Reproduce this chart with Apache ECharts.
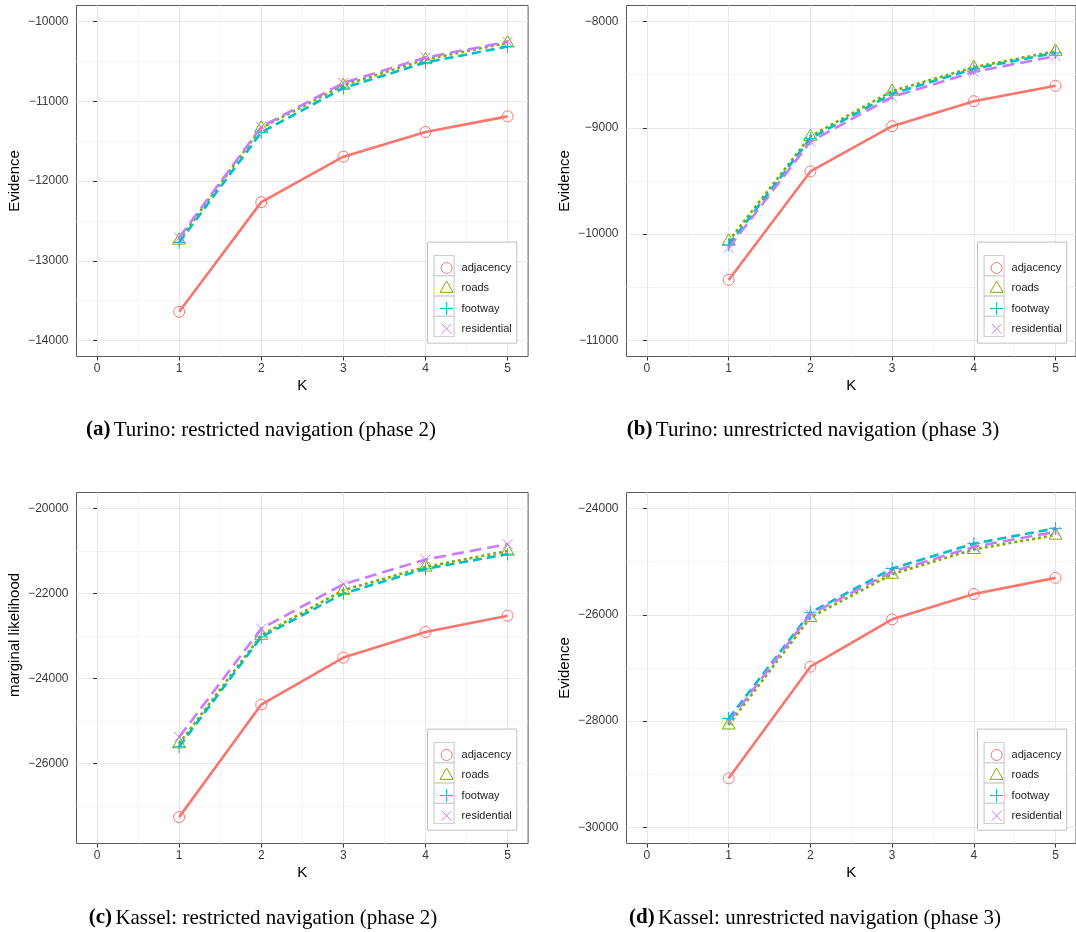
<!DOCTYPE html>
<html>
<head>
<meta charset="utf-8">
<script src="https://cdn.jsdelivr.net/npm/echarts@6/dist/echarts.min.js"></script>
<style>
  html, body { margin: 0; padding: 0; background: #fff; }
  #main { width: 1076px; height: 932px; }
</style>
</head>
<body>
<div id="main"></div>
<script>
var chartDom = document.getElementById('main');
var myChart = echarts.init(chartDom);
var option;

// data
const K = [1, 2, 3, 4, 5];
const names = ['adjacency', 'roads', 'footway', 'residential'];
const colors = ['#F8766D', '#7CAE00', '#00BFC4', '#C77CFF'];

// (a) Turino phase 2
const adjA = [-13640, -12265, -11695, -11385, -11190];
const roadsA = [-12740, -11335, -10800, -10478, -10268];
const footA = [-12770, -11390, -10835, -10515, -10315];
const resA = [-12710, -11322, -10770, -10452, -10255];
// (b) Turino phase 3
const adjB = [-10430, -9410, -8985, -8750, -8605];
const roadsB = [-10065, -9080, -8655, -8430, -8280];
const footB = [-10100, -9100, -8680, -8445, -8295];
const resB = [-10130, -9130, -8710, -8475, -8325];
// (c) Kassel phase 2
const adjC = [-27255, -24610, -23505, -22905, -22520];
const roadsC = [-25530, -22980, -21920, -21375, -21000];
const footC = [-25600, -23020, -22000, -21420, -21075];
const resC = [-25375, -22825, -21780, -21200, -20840];
// (d) Kassel phase 3
const adjD = [-29075, -26975, -26085, -25610, -25305];
const roadsD = [-28070, -26050, -25235, -24770, -24500];
const footD = [-27950, -25960, -25130, -24660, -24375];
const resD = [-28010, -25990, -25190, -24720, -24440];

const xTicks = [0, 1, 2, 3, 4, 5];
const xMinor = [0.5, 1.5, 2.5, 3.5, 4.5];
const yTicksA = [-14000, -13000, -12000, -11000, -10000];
const yMinorA = [-13500, -12500, -11500, -10500];
const yTicksB = [-11000, -10000, -9000, -8000];
const yMinorB = [-10500, -9500, -8500];
const yTicksC = [-26000, -24000, -22000, -20000];
const yMinorC = [-27000, -25000, -23000, -21000];
const yTicksD = [-30000, -28000, -26000, -24000];
const yMinorD = [-29000, -27000, -25000];

const yLabels = ['Evidence', 'Evidence', 'marginal likelihood', 'Evidence'];
const captions = [
  ['(a)', 'Turino: restricted navigation (phase 2)'],
  ['(b)', 'Turino: unrestricted navigation (phase 3)'],
  ['(c)', 'Kassel: restricted navigation (phase 2)'],
  ['(d)', 'Kassel: unrestricted navigation (phase 3)']
];

const panels = [
  { box: [76.5, 5.5, 451.6, 351], y: [-14200, -9800], ticks: yTicksA, minor: yMinorA, vals: [adjA, roadsA, footA, resA], cap: [261, 430] },
  { box: [626.5, 5.5, 451.6, 351], y: [-11150, -7850], ticks: yTicksB, minor: yMinorB, vals: [adjB, roadsB, footB, resB], cap: [813, 430] },
  { box: [76.5, 492.5, 451.6, 351], y: [-27875, -19625], ticks: yTicksC, minor: yMinorC, vals: [adjC, roadsC, footC, resC], cap: [263, 918] },
  { box: [626.5, 492.5, 451.6, 351], y: [-30300, -23700], ticks: yTicksD, minor: yMinorD, vals: [adjD, roadsD, footD, resD], cap: [815, 918] }
];

const sans = 'Liberation Sans, Arial, sans-serif';
const serif = 'Liberation Serif, Times New Roman, serif';
// symbols drawn in a 20x20 box (the two moves keep the box size)
const symbols = [
  'path://M0,0M20,20M15.5,10A5.5,5.5,0,1,1,4.5,10A5.5,5.5,0,1,1,15.5,10Z',
  'path://M0,0M20,20M10,2.8L16.5,14.1L3.5,14.1Z',
  'path://M0,0M20,20M3.5,10L16.5,10M10,3.5L10,16.5',
  'path://M0,0M20,20M5,5L15,15M15,5L5,15'
];
const dashes = ['solid', [3, 3], [9, 5], [12, 6]];

function fmt(v) {
  return (v < 0 ? '\u2212' : '') + Math.abs(v);
}

const grids = [], xAxes = [], yAxes = [], series = [], legends = [], graphics = [];

panels.forEach(function (p, gi) {
  const [gx, gy, gw, gh] = p.box;
  grids.push({
    left: gx, top: gy, width: gw, height: gh,
    show: true, backgroundColor: '#fff', borderColor: '#5a5a5a', borderWidth: 1
  });
  // major x axis
  xAxes.push({
    gridIndex: gi, type: 'value', min: -0.25, max: 5.25,
    axisLine: { show: false },
    axisTick: { show: true, length: 4, lineStyle: { color: '#333' }, customValues: xTicks },
    axisLabel: { customValues: xTicks, margin: 6, fontSize: 12, color: '#3a3a3a', fontFamily: sans },
    splitLine: { show: true, lineStyle: { color: '#e8e8e8', width: 1.1 } },
    name: 'K', nameLocation: 'middle', nameGap: 22,
    nameTextStyle: { fontSize: 15, color: '#000', fontFamily: sans }
  });
  // minor x grid
  xAxes.push({
    gridIndex: gi, type: 'value', min: -0.25, max: 5.25,
    axisLine: { show: false },
    axisTick: { show: false, customValues: xMinor },
    axisLabel: { show: false, customValues: xMinor },
    splitLine: { show: true, lineStyle: { color: '#f4f4f4', width: 1 } }
  });
  yAxes.push({
    gridIndex: gi, type: 'value', min: p.y[0], max: p.y[1],
    axisLine: { show: false },
    axisTick: { show: true, length: 4, lineStyle: { color: '#333' }, customValues: p.ticks },
    axisLabel: { customValues: p.ticks, margin: 8, fontSize: 12, color: '#3a3a3a', fontFamily: sans, formatter: fmt },
    splitLine: { show: true, lineStyle: { color: '#e8e8e8', width: 1.1 } },
    name: yLabels[gi], nameLocation: 'middle', nameGap: 54,
    nameTextStyle: { fontSize: 15, color: '#000', fontFamily: sans, padding: gi === 2 ? [0, 0, 0, 66] : 0 }
  });
  yAxes.push({
    gridIndex: gi, type: 'value', min: p.y[0], max: p.y[1],
    axisLine: { show: false },
    axisTick: { show: false, customValues: p.minor },
    axisLabel: { show: false, customValues: p.minor },
    splitLine: { show: true, lineStyle: { color: '#f4f4f4', width: 1 } }
  });

  names.forEach(function (nm, si) {
    series.push({
      type: 'line', name: nm,
      xAxisIndex: gi * 2, yAxisIndex: gi * 2,
      data: K.map(function (k, i) { return [k, p.vals[si][i]]; }),
      symbol: symbols[si], symbolSize: 20,
      lineStyle: { color: colors[si], width: 2.6, type: dashes[si] },
      itemStyle: { color: 'none', borderColor: colors[si], borderWidth: 1 },
      z: 3 + si
    });
  });

  const lx = gx + gw - 100.6, ly = gy + gh - 114.4;
  legends.push({
    orient: 'vertical', left: lx, top: ly,
    padding: [13.4, 5, 1.9, 6.6],
    itemWidth: 20, itemHeight: 20.25, itemGap: -4.75,
    backgroundColor: '#fff', borderColor: '#bfbfbf', borderWidth: 1,
    selectedMode: false,
    textStyle: { fontSize: 11, color: '#1a1a1a', fontFamily: sans },
    data: names.map(function (nm, si) {
      return {
        name: nm, icon: symbols[si],
        itemStyle: { color: 'none', borderColor: colors[si], borderWidth: 1 }
      };
    })
  });
  // legend key cells
  for (let i = 0; i < 4; i++) {
    graphics.push({
      type: 'rect', z: 100,
      shape: { x: lx + 6.6, y: ly + 13.4 + 20.25 * i, width: 20, height: 20.25 },
      style: { fill: 'none', stroke: '#cfcfcf', lineWidth: 1.2 }
    });
  }
  // caption
  graphics.push({
    type: 'text', x: p.cap[0], y: p.cap[1], z: 100,
    style: {
      text: '{b|' + captions[gi][0] + '} {n|' + captions[gi][1] + '}',
      align: 'center', verticalAlign: 'middle',
      rich: {
        b: { fontFamily: serif, fontSize: 21, fontWeight: 'bold', fill: '#000' },
        n: { fontFamily: serif, fontSize: 21, fill: '#000' }
      }
    }
  });
});

option = {
  animation: false,
  backgroundColor: '#fff',
  grid: grids,
  xAxis: xAxes,
  yAxis: yAxes,
  legend: legends,
  series: series,
  graphic: graphics
};

option && myChart.setOption(option);
</script>
</body>
</html>
